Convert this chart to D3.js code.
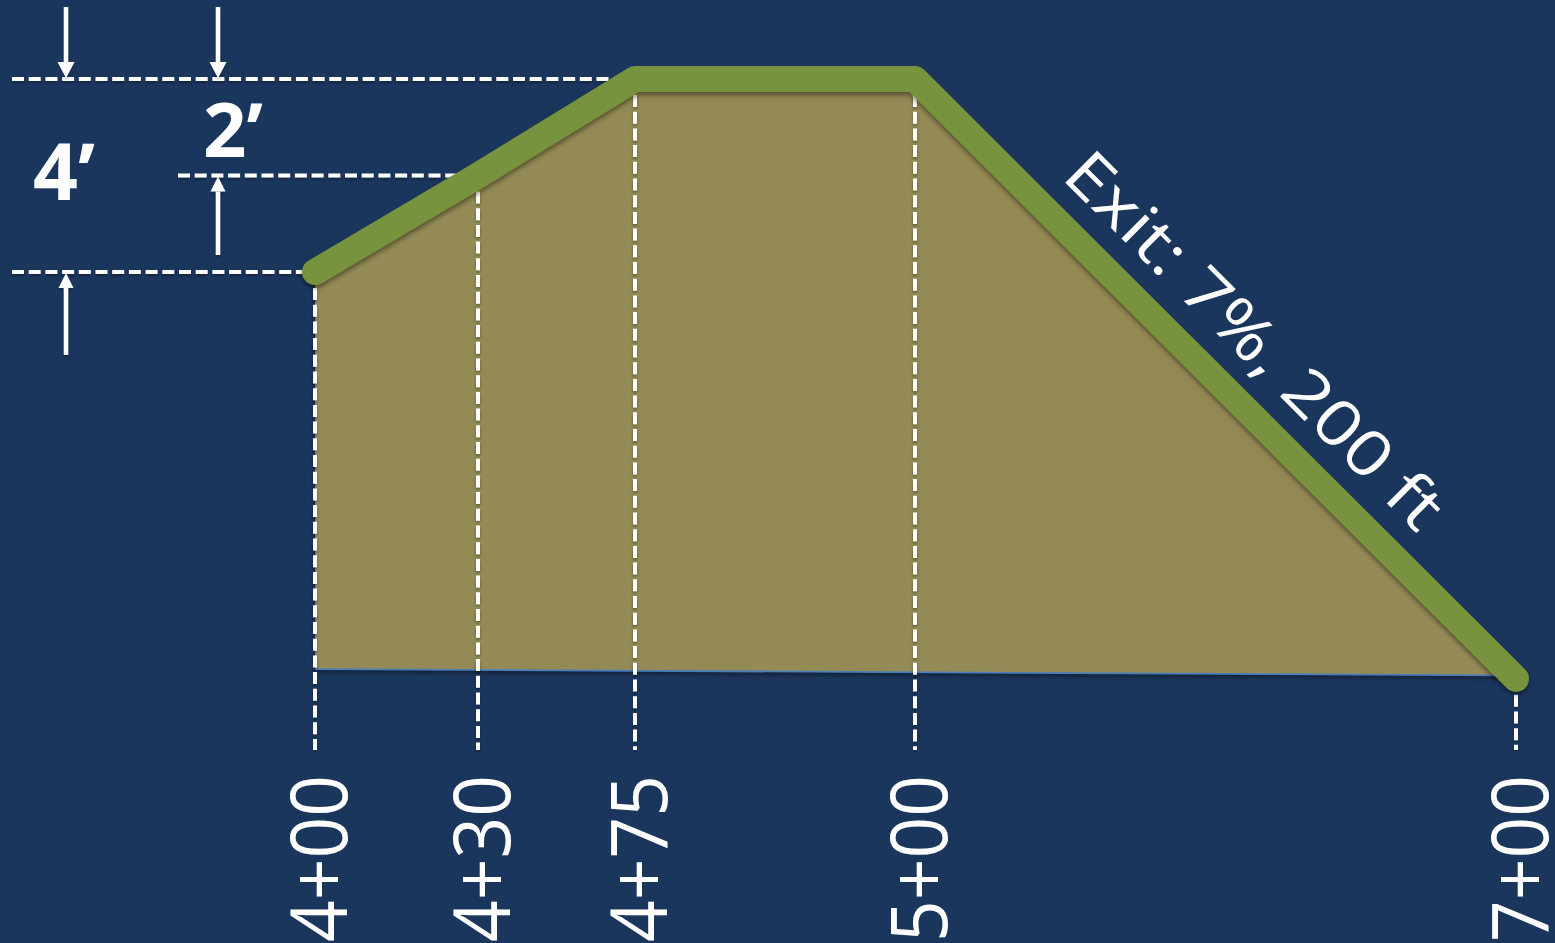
<!DOCTYPE html>
<html><head><meta charset="utf-8">
<script src="https://cdn.jsdelivr.net/npm/d3@7"></script>
<style>html,body{margin:0;padding:0;background:#1b365d;overflow:hidden}</style>
</head><body><svg id="c" width="1555" height="943"></svg>
<script>
// ---- data ----
const stations = [400, 430, 475, 500, 700];
const stationLabels = ["4+00", "4+30", "4+75", "5+00", "7+00"];
const elevations = [0, 2, 4, 4, -8.43];          // profile elevation (ft, relative)
const baseStations = [400, 700];
const baseElevations = [-8.23, -8.36];           // bottom edge of the shaded area
const refLevels = [4, 2, 0];                      // horizontal reference levels
const dimLabels = ["4’", "2’"];
const exitLabel = "Exit: 7%, 200 ft";

// ---- layout ----
const W = 1555, H = 943;
const svg = d3.select("#c");
svg.append("rect").attr("width", W).attr("height", H).attr("fill", "#1b365d");

const x = d3.scaleLinear().domain(stations).range([315, 478, 635, 915, 1516]);
const y = d3.scaleLinear().domain([0, 4]).range([272, 79]);

const defs = svg.append("defs");
const f = defs.append("filter").attr("id", "sh").attr("filterUnits", "userSpaceOnUse")
  .attr("x", 0).attr("y", 0).attr("width", W).attr("height", H);
f.append("feDropShadow").attr("dx", 0).attr("dy", 3).attr("stdDeviation", 2.5).attr("flood-color", "#000").attr("flood-opacity", 0.45);
const f2 = defs.append("filter").attr("id", "sh2").attr("filterUnits", "userSpaceOnUse")
  .attr("x", 0).attr("y", 0).attr("width", W).attr("height", H);
f2.append("feDropShadow").attr("dx", 0).attr("dy", 2).attr("stdDeviation", 1.5).attr("flood-color", "#000").attr("flood-opacity", 0.35);

const dashStyle = sel => sel.attr("stroke", "#fff").attr("stroke-width", 4).attr("stroke-dasharray", "12,4.7").attr("fill", "none");

// horizontal reference dashed lines
const refStart = {4: 12, 2: 178, 0: 12};
refLevels.forEach(lv => {
  const i = elevations.indexOf(lv);
  svg.append("line")
    .attr("x1", refStart[lv]).attr("x2", x(stations[i]))
    .attr("y1", y(lv)).attr("y2", y(lv))
    .call(dashStyle).attr("filter", "url(#sh2)");
});

// shaded area
const pts = stations.map((s, i) => [x(s), y(elevations[i])]);
const basePts = baseStations.map((s, i) => [x(s), y(baseElevations[i])]).reverse();
svg.append("path")
  .attr("d", d3.line()(pts.concat(basePts)) + "Z")
  .attr("fill", "#948a54")
  .attr("filter", "url(#sh)");
svg.append("line")
  .attr("x1", basePts[1][0]).attr("y1", basePts[1][1])
  .attr("x2", basePts[0][0] - 20).attr("y2", basePts[0][1])
  .attr("stroke", "#4a7ebb").attr("stroke-width", 1.8);

// vertical dashed station lines
const yBottom = 750;
svg.selectAll(".vd").data(stations).join("line")
  .attr("x1", d => x(d)).attr("x2", d => x(d))
  .attr("y1", (d, i) => y(elevations[i]) + 16).attr("y2", yBottom)
  .call(dashStyle).attr("filter", "url(#sh2)");

// profile line
svg.append("path")
  .attr("d", d3.line()(pts))
  .attr("fill", "none").attr("stroke", "#77933c").attr("stroke-width", 26)
  .attr("stroke-linecap", "round").attr("stroke-linejoin", "round")
  .attr("filter", "url(#sh)");

// station labels
svg.selectAll(".sl").data(stations).join("text")
  .attr("transform", d => `translate(${x(d) + 4},775) rotate(-90)`)
  .attr("text-anchor", "end").attr("dy", "0.36em")
  .attr("font-family", "'Open Sans', sans-serif").attr("font-size", 78)
  .attr("fill", "#fff")
  .attr("textLength", 167).attr("lengthAdjust", "spacingAndGlyphs")
  .text((d, i) => stationLabels[i]);

// exit label along the slope
const p0 = [x(500), y(4)], p1 = [x(700), y(-8.43)];
const dx = p1[0] - p0[0], dy = p1[1] - p0[1], len = Math.hypot(dx, dy);
const ang = Math.atan2(dy, dx) * 180 / Math.PI;
const t = 0.203, off = 33;
const ex = p0[0] + dx * t + (dy / len) * off, ey = p0[1] + dy * t - (dx / len) * off;
svg.append("text")
  .attr("transform", `translate(${ex},${ey}) rotate(${ang})`)
  .attr("font-family", "'Open Sans', sans-serif").attr("font-size", 63)
  .attr("fill", "#fff")
  .attr("textLength", 505).attr("lengthAdjust", "spacingAndGlyphs")
  .text(exitLabel);

// dimension labels
svg.append("text").attr("x", 33).attr("y", 200).text(dimLabels[0])
  .attr("font-family", "'Open Sans', sans-serif").attr("font-weight", "bold").attr("font-size", 78).attr("fill", "#fff")
  .attr("textLength", 62).attr("lengthAdjust", "spacingAndGlyphs");
svg.append("text").attr("x", 203).attr("y", 157).text(dimLabels[1])
  .attr("font-family", "'Open Sans', sans-serif").attr("font-weight", "bold").attr("font-size", 75).attr("fill", "#fff")
  .attr("textLength", 60).attr("lengthAdjust", "spacingAndGlyphs");

// arrows
function arrow(ax, from, to, hw, hh) {
  const dir = Math.sign(to - from);
  const g = svg.append("g").attr("filter", "url(#sh2)");
  g.append("line").attr("x1", ax).attr("x2", ax).attr("y1", from).attr("y2", to - dir * hh)
    .attr("stroke", "#fff").attr("stroke-width", 4.5);
  g.append("path").attr("d", `M${ax},${to}L${ax - hw / 2},${to - dir * hh}L${ax + hw / 2},${to - dir * hh}Z`)
    .attr("fill", "#fff");
}
arrow(66, 7, y(4) - 1, 17, 16);
arrow(218, 7, y(4) - 1, 17, 16);
arrow(66, 355, y(0) + 1, 15, 15);
arrow(218, 255, y(2) + 1, 15, 15);
</script></body></html>
